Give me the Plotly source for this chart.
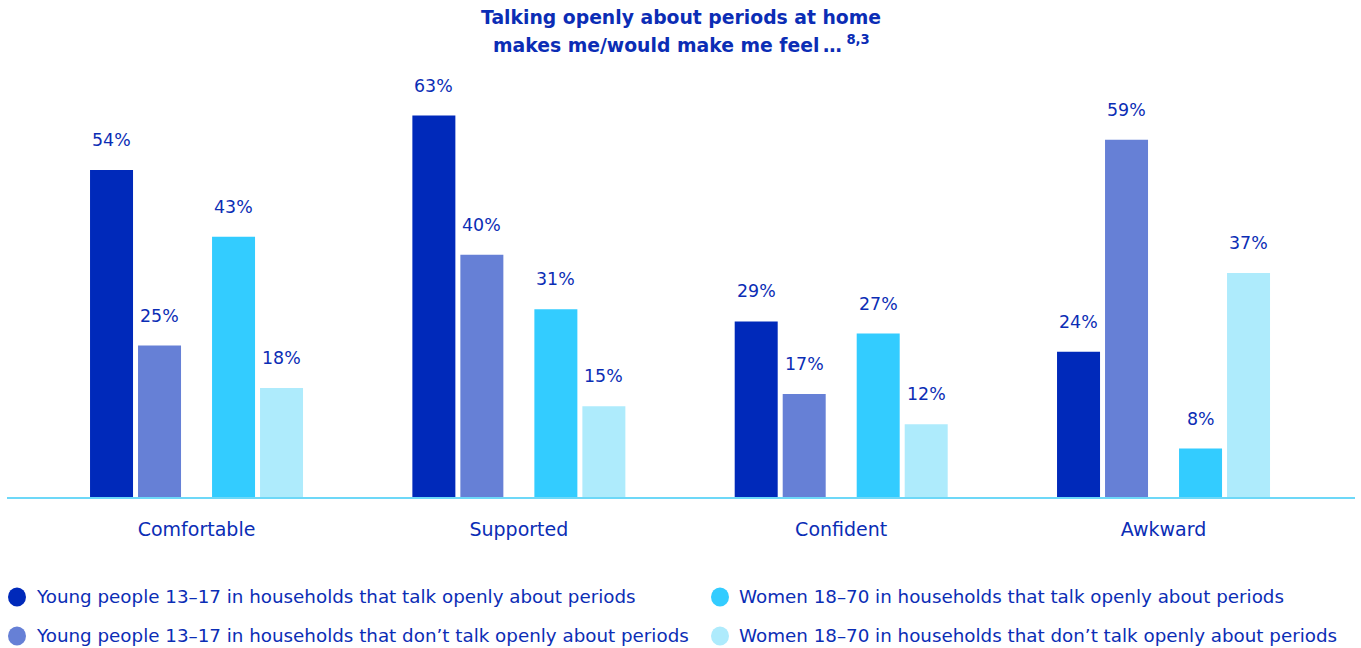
import plotly.graph_objects as go

# Survey answers (percent) per feeling, for each group
categories = ["Comfortable", "Supported", "Confident", "Awkward"]
young_open = [54, 63, 29, 24]
young_closed = [25, 40, 17, 59]
women_open = [43, 31, 27, 8]
women_closed = [18, 15, 12, 37]

series_names = [
    "Young people 13\u201317 in households that talk openly about periods",
    "Young people 13\u201317 in households that don\u2019t talk openly about periods",
    "Women 18\u201370 in households that talk openly about periods",
    "Women 18\u201370 in households that don\u2019t talk openly about periods",
]
series_values = [young_open, young_closed, women_open, women_closed]
colors = ["#0029BA", "#6680D6", "#33CCFF", "#AEEBFC"]
text_color = "#0B2DB5"
font_family = "'DejaVu Sans', sans-serif"

# bar geometry in category units: two pairs per group
bar_width = 0.1334
offsets = [-0.3304, -0.1815, 0.0481, 0.197]

W, H = 1361, 648
m_l, m_r, m_t, m_b = 7, 6, 80, 151
plot_w = W - m_l - m_r
plot_h = H - m_t - m_b
y_max = plot_h / 6.055


def px_x(px):
    return (px - m_l) / plot_w


def px_y(py):
    return ((H - m_b) - py) / plot_h


fig = go.Figure()
annotations = []
xs = list(range(len(categories)))
for name, vals, off, col in zip(series_names, series_values, offsets, colors):
    fig.add_trace(go.Bar(
        x=xs, y=vals, offset=off, width=bar_width,
        marker=dict(color=col, line=dict(width=0)),
        name=name, showlegend=False, hoverinfo="skip",
    ))
    for x, v in zip(xs, vals):
        annotations.append(dict(
            x=x + off + bar_width / 2, y=v, xref="x", yref="y",
            text=f"{v}%", showarrow=False, yanchor="middle", yshift=30,
            font=dict(family=font_family, size=17.4, color=text_color),
        ))

# title, two lines
title_lines = [
    "<b>Talking openly about periods at home</b>",
    "<b>makes me/would make me feel\u2009\u2026</b><sup><b> 8,3</b></sup>",
]
for line, cy in zip(title_lines, [17, 44]):
    annotations.append(dict(
        x=px_x(681), y=px_y(cy), xref="paper", yref="paper",
        text=line, showarrow=False, yanchor="middle", align="center",
        font=dict(family=font_family, size=18.8, color=text_color),
    ))

# legend: two columns, two rows
leg_pos = [(17, 597), (17, 636), (720, 597), (720, 636)]
shapes = []
for (cx, cy), name, col in zip(leg_pos, series_names, colors):
    shapes.append(dict(
        type="circle", xref="paper", yref="paper", xsizemode="pixel", ysizemode="pixel",
        xanchor=px_x(cx), yanchor=px_y(cy), x0=-9, x1=9, y0=-9.5, y1=9.5,
        fillcolor=col, line=dict(width=0),
    ))
    annotations.append(dict(
        x=px_x(cx + 17), y=px_y(cy - 1), xref="paper", yref="paper",
        text=name, showarrow=False, xanchor="left", yanchor="middle",
        font=dict(family=font_family, size=18.3, color=text_color),
    ))

fig.update_layout(
    width=W, height=H,
    margin=dict(l=m_l, r=m_r, t=m_t, b=m_b, pad=0),
    paper_bgcolor="white", plot_bgcolor="white",
    barmode="overlay",
    annotations=annotations, shapes=shapes,
    xaxis=dict(
        range=[-0.588, 3.594], tickvals=xs, ticktext=categories,
        showgrid=False, zeroline=False, ticks="", ticklabelstandoff=14,
        showline=True, linecolor="#6DD8F8", linewidth=2,
        tickfont=dict(family=font_family, size=19, color=text_color),
        fixedrange=True,
    ),
    yaxis=dict(range=[0, y_max], visible=False, fixedrange=True),
)

fig.write_html("out.html")
